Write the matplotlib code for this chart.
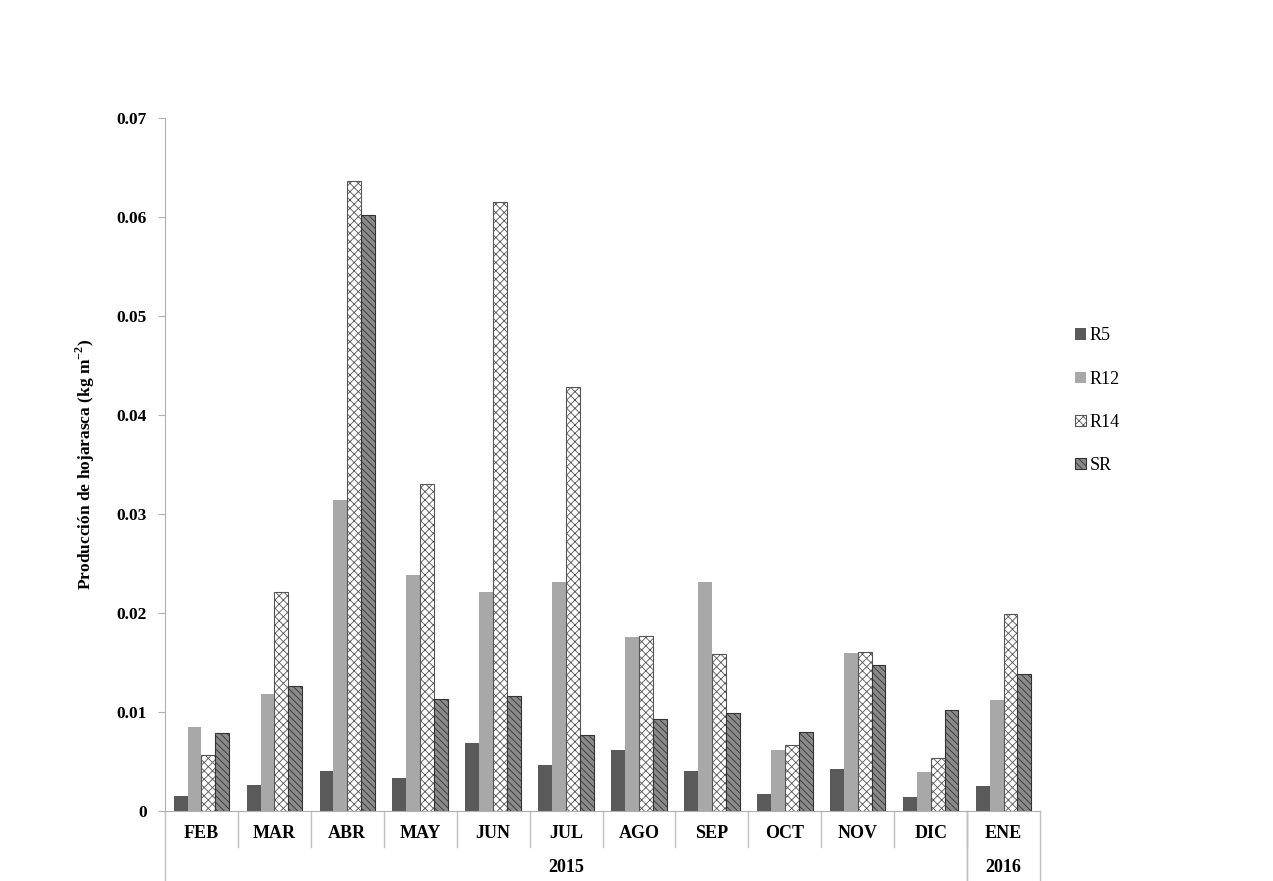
import matplotlib.pyplot as plt
import numpy as np
from matplotlib.ticker import FuncFormatter
import matplotlib.transforms as mtransforms

months = ["FEB", "MAR", "ABR", "MAY", "JUN", "JUL", "AGO", "SEP", "OCT", "NOV", "DIC", "ENE"]
years = ["2015", "2016"]
year_spans = [(0, 11), (11, 12)]  # month index ranges per year

r5 = [0.0015, 0.0026, 0.0040, 0.0033, 0.0069, 0.0046, 0.0062, 0.0040, 0.0017, 0.0042, 0.0014, 0.0025]
r12 = [0.0085, 0.0118, 0.0314, 0.0238, 0.0221, 0.0231, 0.0176, 0.0231, 0.0062, 0.0160, 0.0039, 0.0112]
r14 = [0.0057, 0.0221, 0.0636, 0.0330, 0.0615, 0.0428, 0.0177, 0.0159, 0.0067, 0.0161, 0.0053, 0.0199]
sr = [0.0079, 0.0126, 0.0602, 0.0113, 0.0116, 0.0077, 0.0093, 0.0099, 0.0080, 0.0147, 0.0102, 0.0138]

plt.rcParams['font.family'] = ['Liberation Serif', 'DejaVu Serif']
plt.rcParams['hatch.linewidth'] = 0.6

fig = plt.figure(figsize=(12.73, 8.81), dpi=100)
ax = fig.add_axes([0.1296, 0.0795, 0.6874, 0.7865])

x = np.arange(len(months))
w = 0.19
styles = [
    ("R5", r5, dict(color="#5a5a5a")),
    ("R12", r12, dict(color="#a8a8a8")),
    ("R14", r14, dict(facecolor="white", edgecolor="#555555", hatch="xxxx", linewidth=0.8)),
    ("SR", sr, dict(facecolor="#8a8a8a", edgecolor="#333333", hatch="\\\\\\\\\\", linewidth=0.8)),
]
for i, (name, vals, kw) in enumerate(styles):
    ax.bar(x + (i - 1.5) * w, vals, w, label=name, **kw)

ax.set_xlim(-0.5, len(months) - 0.5)
ax.set_ylim(0, 0.07)
ax.set_yticks(np.arange(0, 0.0701, 0.01))
ax.yaxis.set_major_formatter(FuncFormatter(lambda v, p: "0" if abs(v) < 1e-9 else f"{v:.2f}"))
for lab in ax.get_yticklabels():
    lab.set_fontweight("bold")
ax.tick_params(axis="y", labelsize=12.5, color="#b0b0b0", length=5, pad=8)
ax.set_xticks([])

for s in ["top", "right"]:
    ax.spines[s].set_visible(False)
ax.spines["left"].set_color("#b0b0b0")
ax.spines["bottom"].set_color("#b0b0b0")

ax.set_ylabel("Producción de hojarasca (kg m$^{\\mathregular{-2}}$)", fontsize=12.5, fontweight="bold", labelpad=14)

# two-level category axis
trans = mtransforms.blended_transform_factory(ax.transData, ax.transAxes)
for i, m in enumerate(months):
    ax.text(i, -0.033, m, transform=trans, ha="center", va="center", fontsize=13, fontweight="bold")
for b in np.arange(0.5, len(months) - 0.5, 1):
    ax.plot([b, b], [0, -0.052], transform=trans, color="#c0c0c0", lw=1, clip_on=False)
for yr, (a, b) in zip(years, year_spans):
    ax.text((a + b - 1) / 2, -0.081, yr, transform=trans, ha="center", va="center", fontsize=13, fontweight="bold")
    for edge in (a - 0.5, b - 0.5):
        ax.plot([edge, edge], [0, -0.1], transform=trans, color="#c0c0c0", lw=1, clip_on=False)

leg = ax.legend(loc="center left", bbox_to_anchor=(1.04, 0.592), frameon=False, fontsize=13,
                handlelength=0.6, handleheight=0.6, handletextpad=0.2, labelspacing=1.45,
                borderpad=0, borderaxespad=0)

fig.savefig("out.png", dpi=100)
